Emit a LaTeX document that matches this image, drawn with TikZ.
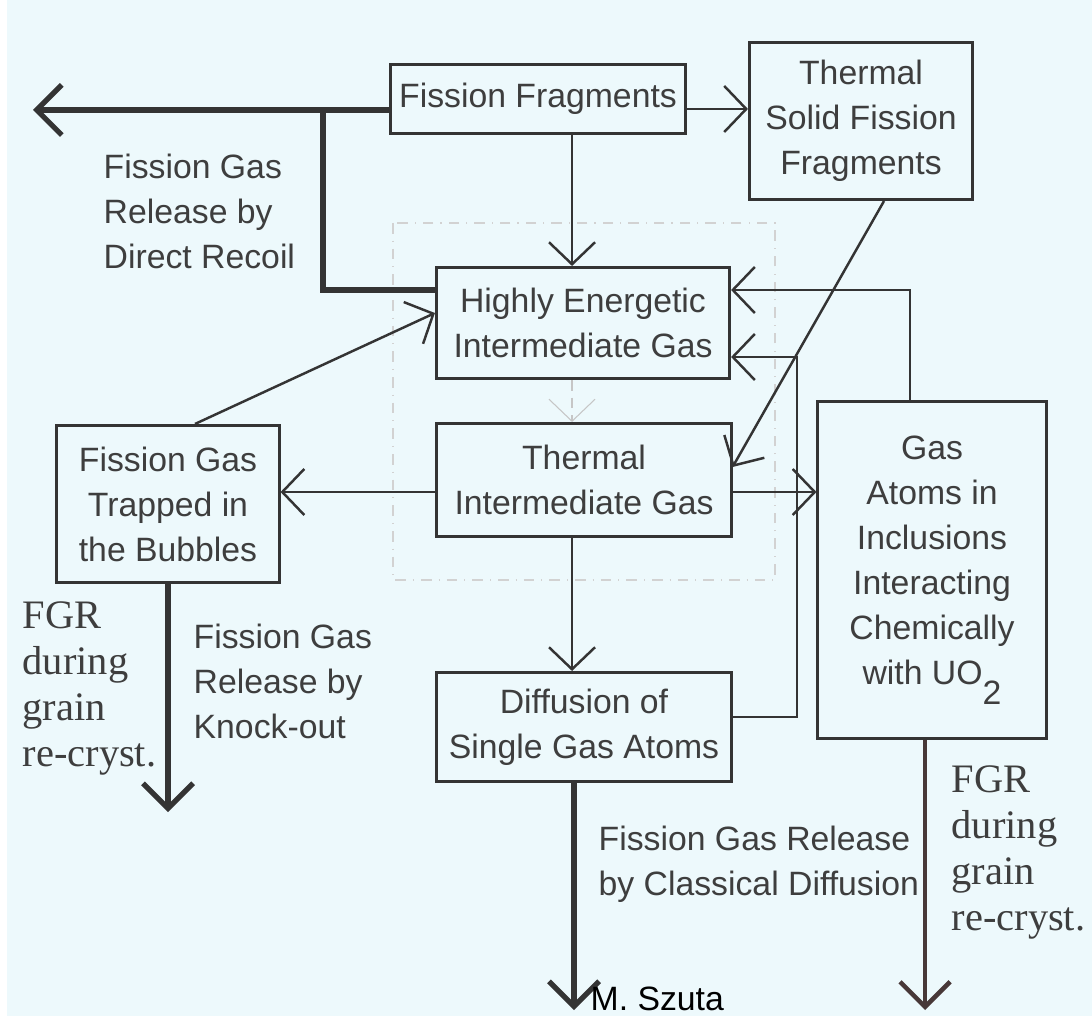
\documentclass[tikz,border=0pt]{standalone}
\usepackage{fontspec}
\setmainfont{Liberation Sans}
\newfontfamily\serifgr{Liberation Serif}
\usetikzlibrary{positioning, calc, arrows.meta}
\definecolor{sfondo}{RGB}{237,249,252}
\definecolor{tratto}{RGB}{52,52,52}
\definecolor{testo}{RGB}{62,62,62}
\definecolor{bruno}{RGB}{72,56,56}
\tikzset{
  box/.style={draw=tratto, line width=0.85pt, align=center, text=testo, inner sep=1pt, font=\fontsize{9.6}{12.8}\selectfont},
  flow/.style={draw=tratto, line width=0.7pt, -{Straight Barb[length=0.22cm, width=0.46cm]}},
  release/.style={draw=tratto, line width=1.5pt, -{Straight Barb[length=0.25cm, width=0.5cm]}},
  nota/.style={anchor=north west, inner sep=0pt, align=left, text=testo, font=\fontsize{9.6}{12.8}\selectfont},
  fgr/.style={anchor=north west, inner sep=0pt, align=left, text=testo, font=\serifgr\fontsize{11.5}{13.1}\selectfont}
}

\begin{document}
\begin{tikzpicture}[x=0.01cm, y=-0.01cm]
        \useasboundingbox (0,0) rectangle (1092,1016);
        \clip (0,0) rectangle (1092,1016);
        %sfondo
        \fill[sfondo] (0,0) rectangle (1092,1016);
        \fill[white] (0,0) rectangle (7,1016);
        \draw[gray!35, line width=0.3pt, dash dot] (393,223) rectangle (775,580);
        %riquadri
        \node[box, minimum width=2.94cm, minimum height=0.68cm] (ff) at (538,99) {Fission Fragments};
        \node[box, minimum width=2.23cm, minimum height=1.57cm] (tsff) at (861,121) {Thermal\\Solid Fission\\Fragments};
        \node[box, minimum width=2.93cm, minimum height=1.11cm] (heig) at (583,323) {Highly Energetic\\Intermediate Gas};
        \node[box, minimum width=2.94cm, minimum height=1.13cm] (tig) at (584,480) {Thermal\\Intermediate Gas};
        \node[box, minimum width=2.95cm, minimum height=1.09cm] (dsga) at (584,727) {Diffusion of\\Single Gas Atoms};
        \node[box, minimum width=2.22cm, minimum height=1.57cm] (trap) at (168,504) {Fission Gas\\Trapped in\\the Bubbles};
        \node[box, minimum width=2.28cm, minimum height=3.37cm] (incl) at (932,570) {Gas\\Atoms in\\Inclusions\\Interacting\\Chemically\\with UO\raisebox{-0.6em}{2}};
        %punti di passaggio
        \coordinate (recoil) at (33,110);
        \coordinate (bend) at (323,290);
        \coordinate (mid) at (572,0);
        \coordinate (ffy) at (0,109);
        \coordinate (diag) at (884,0);
        \coordinate (diagy) at (0,467);
        \coordinate (up) at (910,290);
        \coordinate (back) at (797,357);
        \coordinate (low) at (0,717);
        \coordinate (side) at (0,492);
        \coordinate (trapx) at (195,313);
        \coordinate (sinka) at (168,812);
        \coordinate (sinkb) at (574,1010);
        \coordinate (sinkc) at (925,1010);
        %frecce sottili
        \draw[flow] (ff.south -| mid) -- (heig.north -| mid);
        \draw[flow] (ff.east |- ffy) -- (tsff.west |- ffy);
        \draw[flow] (tsff.south -| diag) -- (tig.east |- diagy);
        \draw[flow] (incl.north -| up) |- (heig.east |- up);
        \draw[flow] (dsga.east |- low) -| (back) -- (heig.east |- back);
        \draw[flow] (tig.east |- side) -- (incl.west |- side);
        \draw[flow] (tig.west |- side) -- (trap.east |- side);
        \draw[flow] (trap.north -| trapx) -- (heig.west |- trapx);
        \draw[flow] (tig.south -| mid) -- (dsga.north -| mid);
        \draw[flow, draw=gray!45, line width=0.3pt, densely dashed] (heig.south -| mid) -- (tig.north -| mid);
        %frecce di rilascio
        \draw[release] (ff.west |- recoil) -- (recoil);
        \draw[tratto, line width=1.5pt] (bend |- recoil) -- (bend) -- (heig.west |- bend);
        \draw[release] (trap.south -| sinka) -- (sinka);
        \draw[release] (dsga.south -| sinkb) -- (sinkb);
        \draw[release, draw=bruno, line width=1.3pt] (incl.south -| sinkc) -- (sinkc);
        %etichette
        \node[nota] (recoiltxt) at (103,153) {Fission Gas\\Release by\\Direct Recoil};
        \node[nota] (knocktxt) at (193,623) {Fission Gas\\Release by\\Knock-out};
        \node[nota] (difftxt) at (598,825) {Fission Gas Release\\by Classical Diffusion};
        \node[fgr] (fgrleft) at (22,601) {FGR\\during\\grain\\re-cryst.};
        \node[fgr] (fgrright) at (951,765) {FGR\\during\\grain\\re-cryst.};
        \node[nota, text=black] (autore) at (590,986) {M. Szuta};
    \end{tikzpicture}
\end{document}
